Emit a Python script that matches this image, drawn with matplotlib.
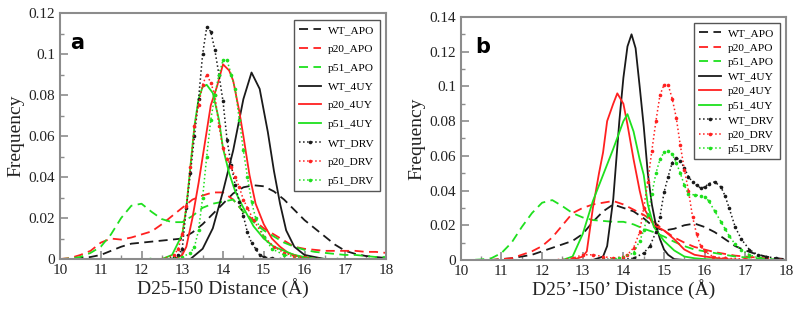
import matplotlib
matplotlib.use("Agg")
import matplotlib.pyplot as plt
from matplotlib.ticker import MultipleLocator
import numpy as np

plt.rcParams['font.family'] = ['Liberation Serif', 'DejaVu Serif']

# shared 0.25 A grid for the broad APO curves
grid = np.arange(10, 18.001, 0.25)

# ---------------- panel a : D25-I50 ----------------
a_wt_apo = [0, 0, 0.0005, 0.001, 0.002, 0.004, 0.006, 0.0075, 0.008, 0.0085, 0.009,
            0.0095, 0.010, 0.013, 0.017, 0.022, 0.027, 0.032, 0.035, 0.036, 0.0355,
            0.033, 0.029, 0.024, 0.019, 0.015, 0.011, 0.007, 0.004, 0.0025, 0.0015,
            0.001, 0.0005]
a_p20_apo = [0, 0.0005, 0.002, 0.004, 0.008, 0.010, 0.0095, 0.0105, 0.012, 0.0135,
             0.017, 0.021, 0.025, 0.029, 0.031, 0.0325, 0.0325, 0.029, 0.023, 0.019,
             0.015, 0.012, 0.009, 0.006, 0.005, 0.0045, 0.004, 0.004, 0.004, 0.004,
             0.0035, 0.0035, 0.003]
a_p51_apo = [0, 0.0003, 0.001, 0.003, 0.006, 0.012, 0.02, 0.026, 0.027, 0.023, 0.0195,
             0.018, 0.018, 0.021, 0.025, 0.027, 0.028, 0.029, 0.023, 0.018, 0.014,
             0.011, 0.008, 0.006, 0.0045, 0.0035, 0.003, 0.0025, 0.002, 0.002, 0.0015,
             0.001, 0.001]

a_wt_4uy_x = [13.2, 13.5, 13.75, 14, 14.25, 14.5, 14.7, 14.9, 15.1, 15.25, 15.4, 15.55,
              15.75, 16, 16.25, 16.5]
a_wt_4uy_y = [0, 0.005, 0.015, 0.033, 0.053, 0.078, 0.091, 0.083, 0.062, 0.043, 0.027,
              0.014, 0.006, 0.002, 0.001, 0]
a_p20_4uy_x = [12.8, 13.0, 13.1, 13.25, 13.4, 13.55, 13.7, 13.85, 14.0, 14.15, 14.25,
               14.4, 14.5, 14.65, 14.8, 15.0, 15.2, 15.4, 15.6, 15.9, 16.2]
a_p20_4uy_y = [0, 0.002, 0.006, 0.02, 0.037, 0.056, 0.075, 0.084, 0.095, 0.092, 0.087,
               0.072, 0.06, 0.041, 0.027, 0.017, 0.01, 0.006, 0.003, 0.001, 0]
a_p51_4uy_x = [12.5, 12.75, 13.0, 13.1, 13.2, 13.3, 13.4, 13.5, 13.6, 13.75, 13.9, 14.0,
               14.15, 14.3, 14.5, 14.75, 15.0, 15.25, 15.5, 15.75, 16.0, 16.3]
a_p51_4uy_y = [0, 0.002, 0.012, 0.025, 0.045, 0.065, 0.078, 0.084, 0.085, 0.081, 0.068,
               0.054, 0.042, 0.033, 0.025, 0.016, 0.010, 0.006, 0.004, 0.002, 0.001, 0]

a_wt_drv_x = [12.6, 12.8, 12.9, 13.0, 13.1, 13.2, 13.3, 13.4, 13.5, 13.6, 13.7, 13.8,
              13.9, 14.0, 14.1, 14.2, 14.3, 14.4, 14.5, 14.6, 14.7, 14.8, 14.9, 15.0,
              15.2, 15.4]
a_wt_drv_y = [0, 0.001, 0.002, 0.005, 0.025, 0.042, 0.06, 0.078, 0.1, 0.113, 0.111,
              0.102, 0.09, 0.077, 0.058, 0.046, 0.036, 0.028, 0.021, 0.013, 0.008,
              0.005, 0.002, 0.001, 0.0003, 0]
a_p20_drv_x = [12.5, 12.8, 12.9, 13.0, 13.1, 13.2, 13.3, 13.4, 13.5, 13.6, 13.7, 13.8,
               13.9, 14.0, 14.1, 14.2, 14.3, 14.4, 14.5, 14.6, 14.75, 15.0, 15.25, 15.5,
               15.75, 16.0, 16.3]
a_p20_drv_y = [0, 0.002, 0.005, 0.012, 0.026, 0.045, 0.065, 0.075, 0.085, 0.09, 0.086,
               0.08, 0.065, 0.054, 0.049, 0.045, 0.04, 0.035, 0.029, 0.025, 0.019,
               0.011, 0.006, 0.003, 0.0015, 0.0008, 0]
a_p51_drv_x = [12.2, 12.6, 13.0, 13.2, 13.3, 13.4, 13.5, 13.6, 13.7, 13.8, 13.9, 14.0,
               14.1, 14.2, 14.3, 14.4, 14.5, 14.6, 14.7, 14.8, 15.0, 15.2, 15.5, 16.0,
               16.8]
a_p51_drv_y = [0, 0, 0.001, 0.003, 0.006, 0.014, 0.03, 0.05, 0.068, 0.08, 0.09, 0.097,
               0.097, 0.09, 0.083, 0.068, 0.053, 0.04, 0.028, 0.02, 0.011, 0.005, 0.002,
               0.0005, 0]

# ---------------- panel b : D25'-I50' ----------------
b_wt_apo = [0, 0, 0, 0, 0.0005, 0.001, 0.002, 0.003, 0.005, 0.007, 0.009, 0.011, 0.015,
            0.022, 0.028, 0.032, 0.030, 0.028, 0.024, 0.019, 0.017, 0.018, 0.02, 0.021,
            0.019, 0.016, 0.012, 0.008, 0.0055, 0.0035, 0.002, 0.001, 0.0005]
b_p20_apo = [0, 0, 0, 0, 0.0005, 0.001, 0.003, 0.005, 0.008, 0.013, 0.02, 0.027, 0.030,
             0.032, 0.033, 0.034, 0.032, 0.029, 0.026, 0.022, 0.017, 0.013, 0.010,
             0.0075, 0.006, 0.0045, 0.0035, 0.0025, 0.002, 0.0015, 0.001, 0.0005, 0]
b_p51_apo = [0, 0, 0.0003, 0.001, 0.004, 0.01, 0.019, 0.027, 0.033, 0.0345, 0.031,
             0.027, 0.0245, 0.023, 0.0225, 0.022, 0.022, 0.0205, 0.018, 0.016, 0.0135,
             0.0105, 0.008, 0.006, 0.005, 0.004, 0.003, 0.002, 0.0015, 0.001, 0.0007,
             0.0003, 0]

b_wt_4uy_x = [13.25, 13.5, 13.6, 13.75, 13.9, 14.0, 14.1, 14.2, 14.3, 14.4, 14.5, 14.6,
              14.7, 14.8, 14.9, 15.0, 15.1, 15.25, 15.5]
b_wt_4uy_y = [0, 0.002, 0.008, 0.035, 0.08, 0.105, 0.123, 0.130, 0.122, 0.10, 0.077,
              0.05, 0.032, 0.02, 0.012, 0.006, 0.003, 0.0005, 0]
b_p20_4uy_x = [12.75, 13.0, 13.1, 13.25, 13.4, 13.5, 13.6, 13.75, 13.85, 14.0, 14.1,
               14.25, 14.4, 14.5, 14.75, 15.0, 15.25, 15.5, 15.75, 16.0, 16.5, 17.0]
b_p20_4uy_y = [0, 0.002, 0.005, 0.03, 0.05, 0.062, 0.08, 0.09, 0.096, 0.09, 0.078,
               0.058, 0.04, 0.03, 0.02, 0.017, 0.012, 0.006, 0.003, 0.002, 0.0005, 0]
b_p51_4uy_x = [12.5, 12.75, 13.0, 13.25, 13.5, 13.75, 14.0, 14.1, 14.25, 14.4, 14.5,
               14.6, 14.75, 15.0, 15.25, 15.5, 15.75, 16.0, 16.5]
b_p51_4uy_y = [0, 0.002, 0.015, 0.034, 0.049, 0.064, 0.08, 0.084, 0.074, 0.058, 0.049,
               0.032, 0.019, 0.011, 0.0055, 0.002, 0.001, 0.0005, 0]

b_wt_drv_x = [12.8, 13.5, 14.0, 14.25, 14.5, 14.65, 14.8, 14.9, 15.0, 15.1, 15.2, 15.3,
              15.4, 15.5, 15.6, 15.7, 15.8, 15.9, 16.0, 16.1, 16.25, 16.4, 16.5, 16.6,
              16.75, 16.9, 17.1, 17.3, 17.5, 17.75, 18.0]
b_wt_drv_y = [0, 0.0003, 0.0005, 0.001, 0.004, 0.008, 0.016, 0.025, 0.039, 0.048,
              0.056, 0.059, 0.057, 0.053, 0.048, 0.045, 0.043, 0.0415, 0.042, 0.044,
              0.045, 0.042, 0.037, 0.03, 0.019, 0.012, 0.006, 0.003, 0.002, 0.001,
              0.0005]
b_p20_drv_x = [12.4, 12.75, 13.0, 13.25, 13.5, 13.75, 14.0, 14.1, 14.25, 14.4, 14.5,
               14.6, 14.7, 14.8, 14.9, 15.0, 15.1, 15.2, 15.3, 15.4, 15.5, 15.6, 15.7,
               15.8, 15.9, 16.0, 16.2, 16.5, 17.0, 17.5]
b_p20_drv_y = [0, 0.001, 0.003, 0.003, 0.002, 0.001, 0.002, 0.003, 0.007, 0.016, 0.03,
               0.045, 0.063, 0.08, 0.095, 0.101, 0.101, 0.093, 0.082, 0.066, 0.052,
               0.04, 0.025, 0.015, 0.008, 0.005, 0.002, 0.001, 0.0005, 0]
b_p51_drv_x = [13.5, 13.9, 14.25, 14.4, 14.5, 14.6, 14.7, 14.8, 14.9, 15.0, 15.1, 15.2,
               15.3, 15.4, 15.5, 15.6, 15.75, 15.9, 16.0, 16.1, 16.25, 16.4, 16.5, 16.6,
               16.75, 16.9, 17.1, 17.35, 17.6]
b_p51_drv_y = [0, 0.001, 0.004, 0.011, 0.017, 0.026, 0.038, 0.05, 0.058, 0.062, 0.063,
               0.061, 0.056, 0.05, 0.043, 0.038, 0.0375, 0.037, 0.0365, 0.034, 0.028,
               0.022, 0.018, 0.014, 0.009, 0.006, 0.003, 0.001, 0]

labels = ['WT_APO', 'p20_APO', 'p51_APO', 'WT_4UY', 'p20_4UY', 'p51_4UY',
          'WT_DRV', 'p20_DRV', 'p51_DRV']
colors = ['#1a1a1a', '#ff2020', '#1ee01e']


def draw_panel(ax, series, tag, xlabel, ymax, legend_spacing, leg_anchor, tag_pos):
    for i, (lab, (xs, ys)) in enumerate(zip(labels, series)):
        c = colors[i % 3]
        kind = i // 3
        if kind == 0:
            ax.plot(xs, ys, color=c, lw=1.3, ls=(0, (5, 3)), label=lab)
        elif kind == 1:
            ax.plot(xs, ys, color=c, lw=1.3, ls='-', label=lab)
        else:
            ax.plot(xs, ys, color=c, lw=1.1, ls=':', marker='o', ms=2.6,
                    markeredgewidth=0, label=lab)
    ax.set_xlim(10, 18)
    ax.set_ylim(0, ymax)
    ax.xaxis.set_major_locator(MultipleLocator(1))
    ax.xaxis.set_minor_locator(MultipleLocator(0.5))
    ax.yaxis.set_major_locator(MultipleLocator(0.02))
    ax.yaxis.set_minor_locator(MultipleLocator(0.01))
    ax.tick_params(which='both', direction='in', color='#8c8c8c', labelsize=11,
                   labelcolor='#222222', top=False, right=False)
    ax.tick_params(which='major', length=6, width=1.2)
    ax.tick_params(which='minor', length=3, width=1.0)
    ax.yaxis.set_major_formatter(plt.FuncFormatter(lambda v, p: '0' if v == 0 else f'{v:g}'))
    for sp in ax.spines.values():
        sp.set_color('#8c8c8c')
        sp.set_linewidth(1.5)
    ax.set_xlabel(xlabel, fontsize=14, color='#222222', labelpad=1)
    ax.set_ylabel('Frequency', fontsize=14, color='#222222', labelpad=3)
    leg = ax.legend(loc='upper right', bbox_to_anchor=leg_anchor, borderaxespad=0,
                    fontsize=8.2, fancybox=False, framealpha=1, edgecolor='#555555',
                    labelspacing=legend_spacing, handlelength=2.0, handletextpad=0.6,
                    borderpad=0.45)
    leg.get_frame().set_linewidth(1.0)
    ax.text(tag_pos[0], tag_pos[1], tag, transform=ax.transAxes, fontsize=15,
            fontweight='bold', family='DejaVu Sans', ha='center', va='center')


fig = plt.figure(figsize=(8, 3.14), dpi=100)
ax_a = fig.add_axes([0.075, 0.175, 0.4075, 0.7834])
ax_b = fig.add_axes([0.576, 0.172, 0.4065, 0.774])

series_a = [(grid, a_wt_apo), (grid, a_p20_apo), (grid, a_p51_apo),
            (a_wt_4uy_x, a_wt_4uy_y), (a_p20_4uy_x, a_p20_4uy_y), (a_p51_4uy_x, a_p51_4uy_y),
            (a_wt_drv_x, a_wt_drv_y), (a_p20_drv_x, a_p20_drv_y), (a_p51_drv_x, a_p51_drv_y)]
series_b = [(grid, b_wt_apo), (grid, b_p20_apo), (grid, b_p51_apo),
            (b_wt_4uy_x, b_wt_4uy_y), (b_p20_4uy_x, b_p20_4uy_y), (b_p51_4uy_x, b_p51_4uy_y),
            (b_wt_drv_x, b_wt_drv_y), (b_p20_drv_x, b_p20_drv_y), (b_p51_drv_x, b_p51_drv_y)]

draw_panel(ax_a, series_a, 'a', 'D25-I50 Distance (Å)', 0.12, 0.78, (0.982, 0.972), (0.052, 0.88))
draw_panel(ax_b, series_b, 'b', 'D25’-I50’ Distance (Å)', 0.14, 0.4, (0.982, 0.975), (0.068, 0.877))

fig.savefig('out.png', dpi=100)
